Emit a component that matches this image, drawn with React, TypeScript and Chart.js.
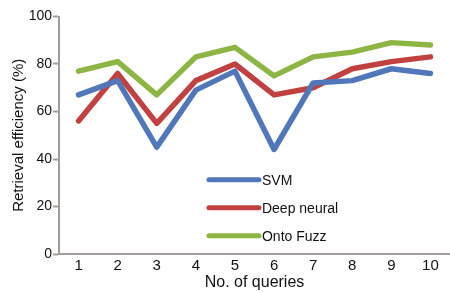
import React, { useEffect, useRef } from "react";
import { Chart, registerables } from "chart.js";

Chart.register(...registerables);

const categories = ["1", "2", "3", "4", "5", "6", "7", "8", "9", "10"];
const svm = [67, 73, 45, 69, 77, 44, 72, 73, 78, 76];
const deepNeural = [56, 76, 55, 73, 80, 67, 70, 78, 81, 83];
const ontoFuzz = [77, 81, 67, 83, 87, 75, 83, 85, 89, 88];
const seriesLabels = ["SVM", "Deep neural", "Onto Fuzz"];
const seriesColors = ["#4f77ba", "#c0413f", "#8db543"];

const FONT = "'Liberation Sans', Arial, sans-serif";
const AXIS = "#a49c98";

const legendPlugin = {
  id: "insideLegend",
  afterDraw(chart: any) {
    const ctx = chart.ctx;
    const xs = chart.scales.x;
    const ys = chart.scales.y;
    const x0 = xs.getPixelForValue(4) - 26;
    const rows = [31.3, 19.5, 7.7];
    ctx.save();
    chart.data.datasets.forEach((ds: any, i: number) => {
      const y = ys.getPixelForValue(rows[i]);
      ctx.strokeStyle = ds.borderColor;
      ctx.lineWidth = 5;
      ctx.lineCap = "round";
      ctx.beginPath();
      ctx.moveTo(x0, y);
      ctx.lineTo(x0 + 50, y);
      ctx.stroke();
      ctx.fillStyle = "#111";
      ctx.font = `14px ${FONT}`;
      ctx.textBaseline = "middle";
      ctx.textAlign = "left";
      ctx.fillText(ds.label, x0 + 53, y + 1);
    });
    ctx.restore();
  },
};

export default function App() {
  const ref = useRef<HTMLCanvasElement>(null);
  useEffect(() => {
    const values = [svm, deepNeural, ontoFuzz];
    const chart = new Chart(ref.current!, {
      type: "line",
      data: {
        labels: categories,
        datasets: values.map((v, i) => ({
          label: seriesLabels[i],
          data: v,
          borderColor: seriesColors[i],
          backgroundColor: seriesColors[i],
          borderWidth: 5.5,
          pointRadius: 0,
          tension: 0,
          borderJoinStyle: "round" as const,
          borderCapStyle: "round" as const,
        })),
      },
      options: {
        animation: false,
        responsive: false,
        layout: { padding: { top: 16.5, right: 0, left: 0, bottom: 0 } },
        plugins: { legend: { display: false }, tooltip: { enabled: false } },
        scales: {
          x: {
            offset: true,
            grid: { display: false, drawTicks: false },
            border: { color: AXIS, width: 2 },
            ticks: { color: "#111", font: { family: FONT, size: 15 }, padding: 3 },
            title: {
              display: true,
              text: "No. of queries",
              color: "#111",
              font: { family: FONT, size: 16 },
              padding: { top: 0, bottom: 0 },
            },
            afterFit(s: any) {
              s.height = 38;
            },
          },
          y: {
            min: 0,
            max: 100,
            grid: { display: true, drawOnChartArea: false, drawTicks: true, tickLength: 6, color: AXIS, tickWidth: 2 },
            border: { color: AXIS, width: 2 },
            ticks: { stepSize: 20, color: "#111", font: { family: FONT, size: 14 }, padding: 1 },
            title: {
              display: true,
              text: "Retrieval efficiency (%)",
              color: "#111",
              font: { family: FONT, size: 15 },
              padding: { top: 10, bottom: 0 },
            },
            afterFit(s: any) {
              s.width = 59;
            },
          },
        },
      },
      plugins: [legendPlugin],
    });
    return () => chart.destroy();
  }, []);
  return (
    <div style={{ position: "fixed", left: 0, top: 0, width: 450, height: 292, background: "#fff" }}>
      <canvas ref={ref} width={450} height={292} />
    </div>
  );
}
